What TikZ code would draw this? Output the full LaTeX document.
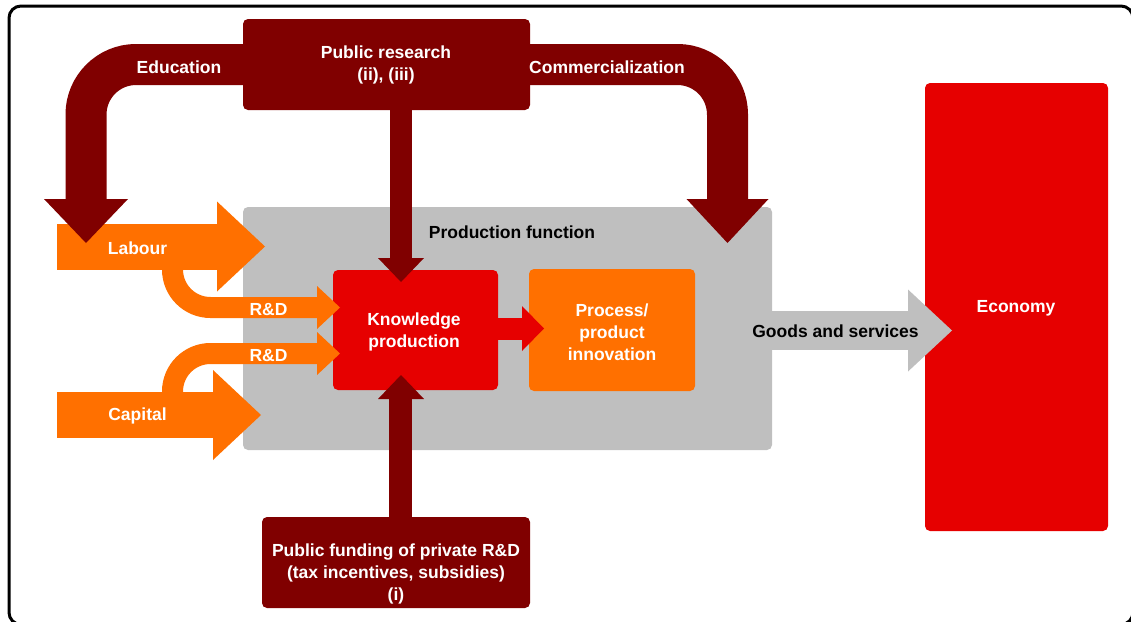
\documentclass[tikz,border=0pt]{standalone}
\usepackage{fontspec}
\setmainfont{Liberation Sans}
\definecolor{dred}{RGB}{128,0,0}
\definecolor{kred}{RGB}{230,0,0}
\definecolor{orng}{RGB}{255,112,0}
\definecolor{pgrey}{RGB}{191,191,191}
\begin{document}
\begin{tikzpicture}[x=1pt,y=-1pt,
  lbl/.style={font=\bfseries\fontsize{17.5}{22}\selectfont, text=white, align=center, inner sep=0pt},
  blk/.style={rounded corners=5pt, inner sep=0pt, draw=none},
  band/.style={line width=#1, line cap=butt, line join=miter},
]
\useasboundingbox (0,0) rectangle (1131,621);
\clip (0,0) rectangle (1131,621);
% frame
\draw[line width=3pt, rounded corners=12pt] (9,6) rectangle (1133,624.5);

% production function box
\node[blk, fill=pgrey, minimum width=529pt, minimum height=243pt] (prod) at (507.5,328.5) {};
\node[lbl, text=black] (pflbl) at (512,232) {Production function};

% economy
\node[blk, fill=kred, minimum width=183pt, minimum height=448pt] (econ) at (1016.5,307) {};
\node[lbl] (econlbl) at (1016,308) {Economy};

% knowledge production and process innovation
\node[blk, fill=kred, minimum width=165pt, minimum height=120pt] (kp) at (415.5,330) {};
\node[lbl] (kplbl) at (414,332) {Knowledge\\production};
\node[blk, fill=orng, minimum width=166pt, minimum height=122pt] (pi) at (612,330) {};
\node[lbl] (pilbl) at (612,332) {Process/\\product\\innovation};

% public research and public funding boxes
\node[blk, fill=dred, minimum width=287pt, minimum height=91pt] (pr) at (386.5,64.5) {};
\node[lbl] (prlbl) at (386,65) {Public research\\(ii), (iii)};
\node[blk, fill=dred, minimum width=268pt, minimum height=91pt] (pub) at (396,562.5) {};
\node[lbl] (publbl) at (396,573.5) {Public funding of private R\&D\\(tax incentives, subsidies)\\(i)};

% red arrow knowledge -> process
\coordinate (kpH) at (544,328.5);
\draw[band=22pt, kred] (kp.east |- kpH) -- ++(25,0);
\fill[kred] (kpH) -- ++(-22,-22.5) -- ++(0,45) -- cycle;

% orange input arrows
\coordinate (labT) at (57,246.5);
\coordinate (labH) at (265,246.5);
\coordinate (capT) at (57,415);
\coordinate (capH) at (261,415);
\coordinate (rd1H) at (340,307.5);
\coordinate (rd2H) at (340,353.5);
\draw[band=21pt, orng, rounded corners=38pt] (172.5,255) -- (172.5,307.5) -- (318,307.5);
\fill[orng] (rd1H) -- ++(-23,-21.5) -- ++(0,43) -- cycle;
\draw[band=21pt, orng, rounded corners=38pt] (172.5,405) -- (172.5,353.5) -- (318,353.5);
\fill[orng] (rd2H) -- ++(-23,-21.5) -- ++(0,43) -- cycle;
\draw[band=46pt, orng] (labT) -- ++(161,0);
\fill[orng] (labH) -- ++(-48,-45) -- ++(0,90) -- cycle;
\draw[band=46pt, orng] (capT) -- ++(157,0);
\fill[orng] (capH) -- ++(-48,-45) -- ++(0,90) -- cycle;
\node[lbl] (lablbl) at (137.5,248.5) {Labour};
\node[lbl] (caplbl) at (137.5,416) {Capital};
\node[lbl] (rd1) at (268.5,309.5) {R\&D};
\node[lbl] (rd2) at (268.5,355.5) {R\&D};

% goods and services arrow
\coordinate (gsH) at (952,330.5);
\draw[band=39pt, pgrey] (prod.east |- gsH) -- ++(137,0);
\fill[pgrey] (gsH) -- ++(-44,-41) -- ++(0,82) -- cycle;
\node[lbl, text=black] (gslbl) at (835.5,331) {Goods and services};

% education and commercialization bands
\coordinate (eduH) at (86,243);
\coordinate (comH) at (727.5,243);
\draw[band=41pt, dred, rounded corners=50pt] (pr.west) -- (86,64.5) -- (86,200);
\fill[dred] (eduH) -- ++(-42,-44) -- ++(84,0) -- cycle;
\draw[band=41pt, dred, rounded corners=50pt] (pr.east) -- (727.5,64.5) -- (727.5,200);
\fill[dred] (comH) -- ++(-41,-44) -- ++(82,0) -- cycle;
\node[lbl] (edulbl) at (179,67) {Education};
\node[lbl] (comlbl) at (607,67) {Commercialization};

% vertical arrows to knowledge production
\coordinate (downH) at (401,282);
\coordinate (upH) at (401,375);
\draw[band=22pt, dred] ([xshift=14.5pt]pr.south) -- ++(0,150);
\fill[dred] (downH) -- ++(-23,-24) -- ++(46,0) -- cycle;
\draw[band=23pt, dred] ([xshift=4.5pt]pub.north) -- ++(0,-119);
\fill[dred] (upH) -- ++(-23,24) -- ++(46,0) -- cycle;
\end{tikzpicture}
\end{document}
